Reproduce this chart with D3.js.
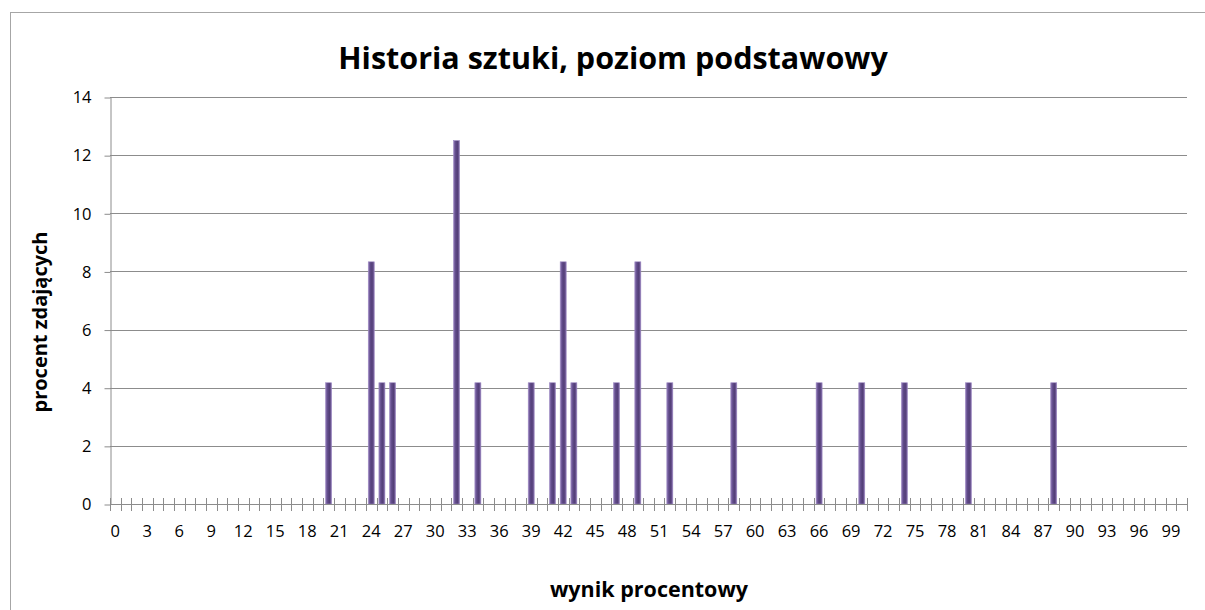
<!DOCTYPE html>
<html>
<head>
<meta charset="utf-8">
<script src="https://d3js.org/d3.v7.min.js"></script>
<style>
  body { margin: 0; background: #fff; }
  svg text { font-family: "Open Sans", "Noto Sans", sans-serif; fill: #000; }
</style>
</head>
<body>
<svg id="chart" width="1205" height="610"></svg>
<script>
// scores 0..100 on the x axis
var scores = d3.range(0, 101);
// score -> percent of examinees (only non-zero ones listed)
var barScores = [20, 24, 25, 26, 32, 34, 39, 41, 42, 43, 47, 49, 52, 58, 66, 70, 74, 80, 88];
var barValues = [4.17, 8.33, 4.17, 4.17, 12.5, 4.17, 4.17, 4.17, 8.33, 4.17, 4.17, 8.33, 4.17, 4.17, 4.17, 4.17, 4.17, 4.17, 4.17];
var yTicks = [0, 2, 4, 6, 8, 10, 12, 14];
var xLabels = scores.filter(function(d) { return d % 3 == 0; });

var svg = d3.select("#chart");
var plotLeft = 110, plotRight = 1187, plotTop = 97, plotBottom = 504;

// outer frame
svg.append("rect")
  .attr("x", 10.5).attr("y", 12.5)
  .attr("width", 1300).attr("height", 700)
  .attr("fill", "none").attr("stroke", "#a6a6a6").attr("stroke-width", 1);

var x = d3.scaleBand().domain(scores).range([plotLeft, plotRight]).padding(0);
var y = d3.scaleLinear().domain([0, 14]).range([plotBottom, plotTop]);

// gradient for bars
var grad = svg.append("defs").append("linearGradient")
  .attr("id", "barGrad").attr("x1", "0").attr("x2", "1").attr("y1", "0").attr("y2", "0");
grad.append("stop").attr("offset", "0").attr("stop-color", "#8f78b8");
grad.append("stop").attr("offset", "0.35").attr("stop-color", "#5f4a88");
grad.append("stop").attr("offset", "0.65").attr("stop-color", "#543f78");
grad.append("stop").attr("offset", "1").attr("stop-color", "#806aa8");

// gridlines
svg.append("g")
  .selectAll("line")
  .data(yTicks.slice(1))
  .enter().append("line")
  .attr("x1", plotLeft).attr("x2", plotRight)
  .attr("y1", function(d) { return Math.round(y(d)) + 0.5; })
  .attr("y2", function(d) { return Math.round(y(d)) + 0.5; })
  .attr("stroke", "#8c8c8c").attr("stroke-width", 1);

// y axis
var yAxis = svg.append("g")
  .attr("transform", "translate(" + (plotLeft + 0.5) + ",0.5)")
  .call(d3.axisLeft(y).tickValues(yTicks).tickSize(6).tickPadding(13).tickSizeOuter(0));
yAxis.selectAll("line, path").attr("stroke", "#8c8c8c");
yAxis.selectAll("text").style("font-size", "16.5px");

// bars
var barW = 6;
svg.append("g")
  .selectAll("rect")
  .data(barScores)
  .enter().append("rect")
  .attr("x", function(d) { return x(d) + x.bandwidth() / 2 - barW / 2; })
  .attr("y", function(d, i) { return y(barValues[i]); })
  .attr("width", barW)
  .attr("height", function(d, i) { return plotBottom - y(barValues[i]); })
  .attr("fill", "url(#barGrad)")
  .attr("stroke", "#9a86c0").attr("stroke-width", 0.6);

// x axis line
svg.append("line")
  .attr("x1", plotLeft).attr("x2", plotRight)
  .attr("y1", plotBottom + 0.5).attr("y2", plotBottom + 0.5)
  .attr("stroke", "#8c8c8c");

// x ticks crossing the axis at category boundaries
svg.append("g")
  .selectAll("line")
  .data(d3.range(0, 102))
  .enter().append("line")
  .attr("x1", function(d) { return Math.round(plotLeft + d * x.step()) + 0.5; })
  .attr("x2", function(d) { return Math.round(plotLeft + d * x.step()) + 0.5; })
  .attr("y1", plotBottom - 6).attr("y2", plotBottom + 7)
  .attr("stroke", "#8c8c8c");

// x labels
svg.append("g")
  .selectAll("text")
  .data(xLabels)
  .enter().append("text")
  .attr("x", function(d) { return x(d) + x.bandwidth() / 2; })
  .attr("y", plotBottom + 33)
  .attr("text-anchor", "middle")
  .style("font-size", "16.5px")
  .text(function(d) { return d; });

// title
svg.append("text")
  .attr("x", 613).attr("y", 69)
  .attr("text-anchor", "middle")
  .style("font-size", "30.5px").style("font-weight", "bold")
  .text("Historia sztuki, poziom podstawowy");

// axis titles
svg.append("text")
  .attr("x", 649).attr("y", 597)
  .attr("text-anchor", "middle")
  .style("font-size", "21.5px").style("font-weight", "bold")
  .text("wynik procentowy");

svg.append("text")
  .attr("transform", "translate(47,322) rotate(-90)")
  .attr("text-anchor", "middle")
  .style("font-size", "20px").style("font-weight", "bold")
  .text("procent zdających");
</script>
</body>
</html>
